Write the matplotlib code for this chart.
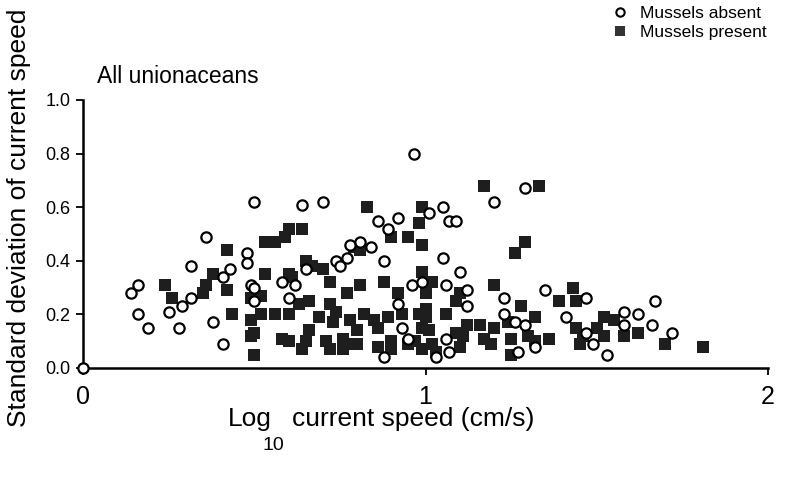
import matplotlib
matplotlib.use("Agg")
from matplotlib import pyplot as plt
from matplotlib.lines import Line2D

plt.rcParams["font.family"] = ["Liberation Sans", "DejaVu Sans"]

# mussels absent (open circles): log10 speed, sd of speed
absent_x = [0.0, 0.14, 0.16, 0.16, 0.19, 0.25, 0.28, 0.29, 0.315, 0.315, 0.36, 0.38,
            0.41, 0.41, 0.43, 0.48, 0.48, 0.49, 0.50, 0.50, 0.50, 0.58, 0.60, 0.62,
            0.64, 0.65, 0.70, 0.74, 0.75, 0.77, 0.78, 0.81, 0.84, 0.86, 0.88, 0.89,
            0.92, 0.965, 0.96, 0.92, 0.93, 0.95, 0.88, 1.01, 1.05, 1.07, 1.09, 1.05,
            1.10, 0.99, 1.06, 1.12, 1.12, 1.20, 1.29, 1.23, 1.35, 1.47, 1.23, 1.41,
            1.26, 1.29, 1.06, 1.07, 1.03, 1.27, 1.32, 1.49, 1.47, 1.58, 1.58, 1.62,
            1.67, 1.66, 1.72, 1.53]
absent_y = [0.0, 0.28, 0.31, 0.20, 0.15, 0.21, 0.15, 0.23, 0.26, 0.38, 0.49, 0.17,
            0.09, 0.34, 0.37, 0.43, 0.39, 0.31, 0.62, 0.30, 0.25, 0.32, 0.26, 0.31,
            0.61, 0.37, 0.62, 0.40, 0.38, 0.41, 0.46, 0.47, 0.45, 0.55, 0.40, 0.52,
            0.56, 0.80, 0.31, 0.24, 0.15, 0.11, 0.04, 0.58, 0.60, 0.55, 0.55, 0.41,
            0.36, 0.32, 0.31, 0.29, 0.23, 0.62, 0.67, 0.26, 0.29, 0.26, 0.20, 0.19,
            0.17, 0.16, 0.11, 0.06, 0.04, 0.06, 0.08, 0.09, 0.13, 0.21, 0.16, 0.20,
            0.25, 0.16, 0.13, 0.05]

# mussels present (filled squares)
present_x = [0.24, 0.26, 0.35, 0.36, 0.38, 0.42, 0.435, 0.42, 0.49, 0.49, 0.50, 0.49,
             0.52, 0.53, 0.56, 0.59, 0.60, 0.64, 0.83, 0.79, 0.90, 0.95, 0.98, 0.99,
             0.99, 1.17, 1.33, 1.29, 1.26, 0.99, 1.02, 1.20, 1.10, 1.09, 1.39, 1.43,
             1.44, 1.28, 1.32, 1.06, 1.24, 1.12, 1.16, 1.20, 1.17, 1.19, 1.11, 1.10,
             1.09, 1.00, 1.01, 1.02, 1.03, 1.00, 1.25, 1.25, 1.30, 1.32, 1.36, 1.44,
             1.46, 1.45, 1.50, 1.52, 1.55, 1.52, 1.58, 1.62, 1.70, 1.81, 0.53, 0.60,
             0.61, 0.67, 0.70, 0.72, 0.88, 0.81, 0.77, 0.92, 1.00, 0.65, 0.81, 0.52,
             0.56, 0.60, 0.63, 0.66, 0.69, 0.72, 0.74, 0.73, 0.78, 0.82, 0.85, 0.89,
             0.93, 0.98, 0.99, 0.66, 0.65, 0.64, 0.58, 0.60, 0.50, 0.76, 0.76, 0.80,
             0.80, 0.86, 0.86, 0.90, 0.90, 0.97, 0.99, 0.95, 0.71, 0.72, 0.78]
present_y = [0.31, 0.26, 0.28, 0.31, 0.35, 0.29, 0.20, 0.44, 0.18, 0.12, 0.05, 0.26,
             0.27, 0.47, 0.47, 0.49, 0.52, 0.52, 0.60, 0.45, 0.49, 0.49, 0.54, 0.60,
             0.46, 0.68, 0.68, 0.47, 0.43, 0.36, 0.32, 0.31, 0.28, 0.25, 0.25, 0.30,
             0.25, 0.23, 0.19, 0.20, 0.17, 0.16, 0.16, 0.15, 0.11, 0.09, 0.12, 0.08,
             0.13, 0.19, 0.14, 0.09, 0.06, 0.22, 0.11, 0.05, 0.12, 0.10, 0.11, 0.15,
             0.12, 0.09, 0.15, 0.19, 0.18, 0.12, 0.12, 0.13, 0.09, 0.08, 0.35, 0.35,
             0.34, 0.38, 0.37, 0.32, 0.32, 0.31, 0.28, 0.28, 0.28, 0.40, 0.44, 0.20,
             0.20, 0.20, 0.24, 0.25, 0.19, 0.24, 0.21, 0.17, 0.18, 0.20, 0.18, 0.19,
             0.20, 0.20, 0.15, 0.14, 0.10, 0.07, 0.11, 0.10, 0.13, 0.11, 0.07, 0.09,
             0.14, 0.15, 0.08, 0.10, 0.07, 0.10, 0.07, 0.09, 0.10, 0.07, 0.09]

x_ticks = [0, 1, 2]
y_ticks = [0.0, 0.2, 0.4, 0.6, 0.8, 1.0]

fig = plt.figure(figsize=(7.87, 4.79), dpi=100)
ax = fig.add_axes([83 / 787, 1 - 368 / 479, 685 / 787, 268 / 479])

ax.scatter(present_x, present_y, marker="s", s=80, color="#1e1e1e",
           linewidths=0, clip_on=False, zorder=2)
ax.scatter(absent_x, absent_y, marker="o", s=55, facecolors="white",
           edgecolors="black", linewidths=1.6, clip_on=False, zorder=3)

ax.set_xlim(0, 2)
ax.set_ylim(0, 1.0)
ax.set_xticks(x_ticks)
ax.set_xticklabels([str(t) for t in x_ticks], fontsize=18)
ax.set_yticks(y_ticks)
ax.set_yticklabels([f"{t:.1f}" for t in y_ticks], fontsize=13)
ax.tick_params(direction="out", length=5, width=1.3, pad=4)
ax.tick_params(axis="x", pad=7)
for side in ["top", "right"]:
    ax.spines[side].set_visible(False)
for side in ["left", "bottom"]:
    ax.spines[side].set_linewidth(1.8)

fig.text(19 / 787, 1 - 218 / 479, "Standard deviation of current speed",
         rotation=90, ha="center", va="center", fontsize=19)
fig.text(228 / 787, 1 - 419 / 479, "Log", ha="left", va="center", fontsize=19)
fig.text(263 / 787, 1 - 446 / 479, "10", ha="left", va="center", fontsize=14)
fig.text(292 / 787, 1 - 419 / 479, "current speed (cm/s)", ha="left",
         va="center", fontsize=19)
fig.text(97 / 787, 1 - 76 / 479, "All unionaceans", ha="left", va="center",
         fontsize=16.5)

handles = [
    Line2D([], [], marker="o", linestyle="none", markersize=6,
           markerfacecolor="white", markeredgecolor="black", markeredgewidth=1.5),
    Line2D([], [], marker="s", linestyle="none", markersize=7,
           markerfacecolor="#333333", markeredgewidth=0),
]
fig.legend(handles, ["Mussels absent", "Mussels present"], loc="upper left",
           bbox_to_anchor=(590 / 787, 1 + 6 / 479), frameon=False, fontsize=12.5,
           handletextpad=0.2, labelspacing=0.2, borderaxespad=0.3)

fig.savefig("out.png", dpi=100)
